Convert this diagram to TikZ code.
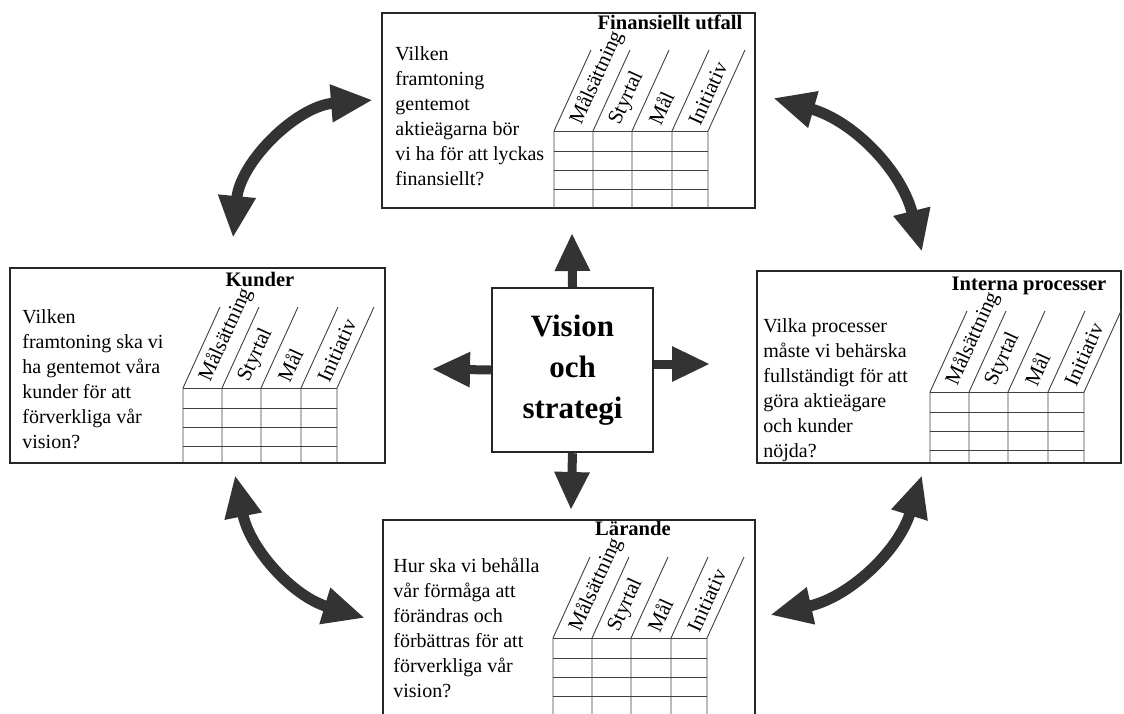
\documentclass[tikz,border=0pt]{standalone}
\usepackage{fontspec}
\setmainfont{Liberation Serif}
\usetikzlibrary{arrows.meta}

\begin{document}
\begin{tikzpicture}[x=0.5pt,y=-0.5pt,
boxframe/.style={draw=black!85, line width=1pt},
tablerule/.style={draw=black!75, line width=0.45pt},
question/.style={anchor=north west, align=left, inner sep=0pt, font=\fontsize{10}{12.5}\selectfont},
heading/.style={anchor=base, inner sep=0pt, font=\fontsize{10.3}{12}\selectfont\bfseries},
collabel/.style={anchor=west, rotate=65.5, inner sep=0pt, font=\fontsize{10.5}{12}\selectfont},
centerbox/.style={draw=black!85, line width=1.2pt, minimum width=80.5pt, minimum height=82pt, align=center, font=\fontsize{15.5}{20.5}\selectfont\bfseries},
outward/.style={draw=black!80, line width=4.5pt, -{Triangle[length=19pt,width=16.5pt]}},
twoway/.style={draw=black!80, line width=5.5pt, {Triangle[length=21pt,width=17.5pt]}-{Triangle[length=21pt,width=17.5pt]}}
]
    \useasboundingbox (0,0) rectangle (1124,713);
    \clip (0,0) rectangle (1124,713);

    % the four perspectives
    \draw[boxframe] (382,13) rectangle (755,208);
    \draw[boxframe] (10,268) rectangle (385,463);
    \draw[boxframe] (757,271) rectangle (1121,463);
    \draw[boxframe] (383,520) rectangle (755,730);

    \node[heading] (fint) at (670,29) {Finansiellt utfall};
    \node[heading] (kundt) at (260,286) {Kunder};
    \node[heading] (intt) at (1029,290) {Interna processer};
    \node[heading] (lart) at (633,535) {Lärande};

    \node[question] (finq) at (395,46) {Vilken\\framtoning\\gentemot\\aktieägarna bör\\vi ha för att lyckas\\finansiellt?};
    \node[question] (kundq) at (22,309) {Vilken\\framtoning ska vi\\ha gentemot våra\\kunder för att\\förverkliga vår\\vision?};
    \node[question] (intq) at (763,318) {Vilka processer\\måste vi behärska\\fullständigt för att\\göra aktieägare\\och kunder\\nöjda?};
    \node[question] (larq) at (393,558) {Hur ska vi behålla\\vår förmåga att\\förändras och\\förbättras för att\\förverkliga vår\\vision?};

    % slanted table in each box
    \foreach \tx/\ty/\by in {554/131/208, 183/388/463, 930/392/463, 553/638/730}{
        \foreach \c in {0,39,78,118,154}
            \draw[tablerule] (\tx+\c,\by) -- (\tx+\c,\ty) -- ++(37,-81);
        \foreach \r in {0,20,39,58}
            \draw[tablerule] (\tx,\ty+\r) -- (\tx+154,\ty+\r);
        \foreach \c/\lab in {0/Målsättning,39/Styrtal,78/Mål,118/Initiativ}
            \node[collabel] (lbl-\tx-\c) at (\tx+\c+22,\ty-7) {\lab};
    }

    % centre
    \node[centerbox] (vis) at (572.5,370) {Vision\\och\\strategi};
    \coordinate (up) at (572,233);
    \coordinate (down) at (571,510);
    \coordinate (left) at (432,369);
    \coordinate (right) at (710,364);
    \draw[outward] (vis.north) -- (up);
    \draw[outward] (vis.south) -- (down);
    \draw[outward] (vis.west) -- (left);
    \draw[outward] ([yshift=3pt]vis.east) -- (right);

    % links between the perspectives
    \coordinate (tl1) at (233,238);
    \coordinate (tl2) at (373,100);
    \coordinate (tr1) at (773,98);
    \coordinate (tr2) at (922,252);
    \coordinate (bl1) at (235,475);
    \coordinate (bl2) at (365,618);
    \coordinate (br1) at (922,475);
    \coordinate (br2) at (770,615);
    \draw[twoway] (tl1) to[bend left=40] (tl2);
    \draw[twoway] (tr1) to[bend left=30] (tr2);
    \draw[twoway] (bl1) to[bend right=31] (bl2);
    \draw[twoway] (br1) to[bend left=30] (br2);
\end{tikzpicture}
\end{document}
